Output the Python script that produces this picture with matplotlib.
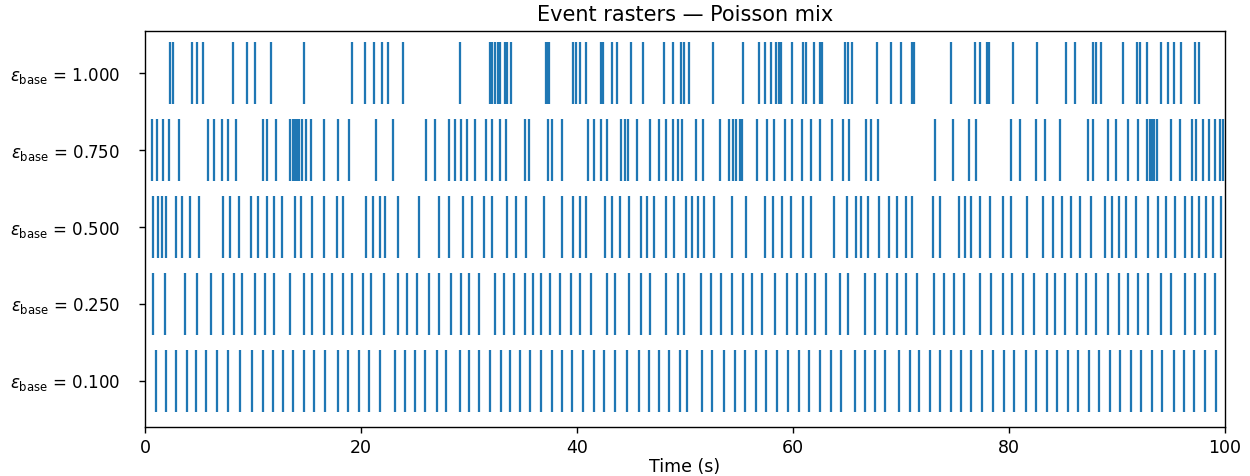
import matplotlib
matplotlib.use("Agg")
import matplotlib.pyplot as plt

# event times (s), one list per base rate
eps_base = [0.100, 0.250, 0.500, 0.750, 1.000]

ev_010 = [0.99, 1.95, 2.83, 3.89, 4.76, 5.63, 6.69, 7.66, 8.82, 9.92, 10.88, 11.88,
          12.82, 13.72, 14.69, 15.66, 16.69, 17.85, 18.82, 19.85, 20.75, 21.72, 23.13,
          24.1, 25.0, 25.9, 27.0, 27.84, 29.13, 30.03, 30.97, 31.9, 32.93, 33.77, 34.74,
          35.64, 36.67, 37.64, 38.61, 39.51, 40.54, 41.57, 42.54, 43.51, 44.6, 45.7,
          46.67, 47.57, 48.54, 49.5, 50.19, 51.55, 52.53, 53.6, 54.64, 55.58, 56.56,
          57.5, 58.54, 59.51, 60.52, 61.5, 62.47, 63.51, 64.49, 65.78, 66.69, 67.6,
          68.55, 69.85, 70.82, 71.7, 72.67, 73.58, 74.62, 75.53, 76.5, 77.48, 78.52,
          79.5, 80.47, 81.54, 82.52, 83.49, 84.47, 85.44, 86.41, 87.39, 88.36, 89.34,
          90.31, 91.29, 92.26, 93.24, 94.21, 95.29, 96.16, 97.14, 98.11, 99.18]

ev_025 = [0.76, 1.86, 3.73, 4.86, 6.15, 7.21, 8.24, 8.95, 10.18, 11.08, 11.95, 13.46,
          14.69, 15.49, 16.56, 17.33, 18.3, 19.2, 20.17, 20.88, 22.1, 23.39, 24.3,
          25.17, 26.29, 27.2, 28.29, 29.26, 30.0, 30.97, 32.42, 33.23, 34.19, 35.16,
          35.97, 36.67, 37.51, 38.38, 39.45, 40.32, 41.28, 42.74, 43.54, 44.83, 45.96,
          46.76, 48.21, 49.34, 49.93, 51.49, 52.4, 53.37, 54.35, 55.39, 56.2, 57.17,
          58.31, 59.45, 60.33, 61.17, 62.05, 63.02, 64.32, 65.13, 66.69, 67.57, 68.71,
          69.62, 70.5, 71.47, 73.09, 73.97, 74.88, 75.79, 77.32, 78.29, 79.43, 80.24,
          81.31, 82.29, 83.49, 84.24, 85.21, 86.25, 87.16, 88.04, 89.18, 90.15, 91.06,
          91.94, 92.91, 94.05, 94.96, 96.32, 97.23, 98.11, 99.08]

ev_050 = [0.76, 1.21, 1.54, 1.95, 2.83, 3.47, 4.21, 5.02, 7.21, 7.85, 8.72, 9.85,
          10.5, 11.3, 11.95, 12.69, 13.88, 14.43, 15.5, 16.62, 17.75, 18.3, 20.49,
          21.07, 21.72, 22.26, 23.39, 25.33, 27.26, 28.16, 29.45, 30.32, 31.39, 32.1,
          33.55, 34.35, 35.32, 36.93, 38.61, 39.67, 40.32, 40.8, 42.57, 43.22, 44.02,
          44.83, 45.89, 46.44, 47.09, 48.22, 49.02, 50.12, 50.68, 51.16, 51.75, 52.72,
          54.35, 55.65, 57.4, 58.15, 58.96, 59.77, 60.91, 61.63, 63.77, 64.97, 65.85,
          66.27, 66.92, 67.99, 68.87, 69.62, 70.5, 71.05, 73.0, 73.65, 75.37, 75.92,
          76.51, 77.32, 78.2, 79.43, 80.14, 81.7, 83.17, 84.04, 84.89, 85.76, 86.58,
          87.55, 88.85, 89.57, 90.15, 90.87, 91.78, 92.91, 93.79, 94.54, 95.41, 96.26,
          96.97, 97.62, 98.27, 98.92, 99.65]

ev_075 = [0.67, 1.08, 1.63, 2.18, 3.15, 5.82, 6.37, 7.11, 7.66, 8.4, 10.88, 11.3,
          12.17, 13.4, 13.66, 13.88, 14.11, 14.3, 14.5, 14.95, 15.33, 16.56, 17.85,
          18.88, 21.39, 23.0, 26.04, 26.87, 28.16, 28.71, 29.26, 29.84, 30.55, 31.61,
          32.1, 32.9, 33.45, 35.16, 35.58, 37.32, 37.64, 38.61, 41.06, 41.61, 42.25,
          42.74, 44.09, 44.41, 44.73, 45.57, 46.76, 47.57, 48.21, 48.86, 49.34, 49.76,
          51.0, 51.65, 53.28, 54.09, 54.41, 54.74, 55.06, 55.32, 56.69, 57.6, 58.25,
          59.22, 59.94, 60.85, 61.63, 62.47, 63.58, 64.65, 65.2, 66.76, 67.25, 67.9,
          73.19, 74.82, 76.25, 76.9, 80.14, 81.05, 82.52, 83.33, 84.69, 87.29, 87.81,
          89.18, 89.89, 91.06, 91.94, 92.75, 93.01, 93.24, 93.46, 93.72, 95.02, 95.84,
          96.91, 97.3, 97.95, 98.53, 99.08, 99.57, 99.83]

ev_100 = [2.28, 2.6, 4.31, 4.86, 5.4, 8.18, 9.47, 10.17, 11.63, 14.75, 19.14, 20.33,
          21.2, 21.94, 22.49, 23.88, 29.13, 31.94, 32.16, 32.42, 32.68, 32.87, 33.32,
          33.55, 33.87, 37.1, 37.25, 37.45, 39.67, 39.9, 40.32, 40.8, 42.25, 42.41,
          43.22, 43.7, 44.99, 46.12, 48.05, 48.86, 49.67, 49.89, 50.35, 52.63, 55.39,
          56.85, 57.4, 57.99, 58.47, 58.7, 58.9, 59.94, 60.91, 61.17, 61.95, 62.47,
          62.7, 64.81, 65.07, 65.46, 67.8, 69.03, 70.01, 71.05, 71.24, 74.62, 76.83,
          77.32, 77.97, 78.19, 80.34, 82.61, 85.28, 86.09, 87.81, 88.04, 88.53, 90.54,
          91.84, 92.1, 92.75, 94.05, 94.7, 95.29, 95.94, 97.24, 97.63]

events = [ev_010, ev_025, ev_050, ev_075, ev_100]
labels = [r"$\epsilon_{\mathrm{base}}$ = %.3f" % e for e in eps_base]

fig, ax = plt.subplots(figsize=(10, 3.808), dpi=125)
ax.eventplot(events, lineoffsets=range(len(events)), linelengths=0.8,
             linewidths=1.3, color="C0")
ax.set_yticks(range(len(events)))
ax.set_yticklabels(labels)
ax.tick_params(axis="y", pad=11, labelsize=9.6)
ax.set_xlim(0, 100)
ax.set_ylim(-0.6, 4.55)
ax.set_xlabel("Time (s)", labelpad=0.5)
ax.set_title("Event rasters \u2014 Poisson mix")

plt.subplots_adjust(left=0.116, right=0.98, bottom=0.103, top=0.935)
plt.savefig("out.png", dpi=125)
